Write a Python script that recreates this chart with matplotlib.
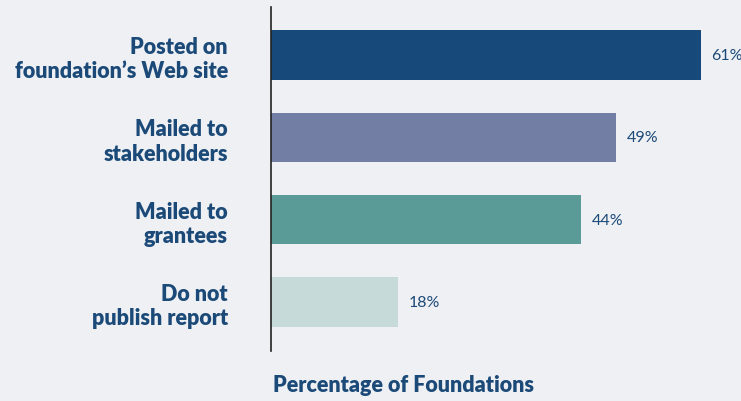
import matplotlib
matplotlib.use("Agg")
import matplotlib.pyplot as plt

categories = ["Posted on\nfoundation\u2019s Web site", "Mailed to\nstakeholders",
              "Mailed to\ngrantees", "Do not\npublish report"]
values = [61, 49, 44, 18]
value_labels = ["61%", "49%", "44%", "18%"]
colors = ["#174a7b", "#727ea4", "#5b9b97", "#c6dbd9"]
xlabel = "Percentage of Foundations"

bg = "#eef0f4"
txt = "#1c4a78"

fig = plt.figure(figsize=(7.41, 4.02), dpi=100, facecolor=bg)
ax = fig.add_axes([271/741, 1-352/402, 470/741, 344/402], facecolor=bg)

y = list(range(len(categories)))
ax.barh(y, values, height=0.6, color=colors)
ax.set_xlim(0, 470/7.05)
ax.set_ylim(3.595, -0.583)

for yi, v, lab in zip(y, values, value_labels):
    ax.text(v + 1.5, yi, lab, va="center", ha="left", fontsize=11.5,
            family="Lato", color=txt)

ax.set_yticks(y)
ax.set_yticklabels(categories, fontsize=15.5, fontweight="heavy", family="Lato",
                   color=txt, ha="right", linespacing=1.2)
ax.tick_params(axis="y", length=0, pad=31)
ax.set_xticks([])
for s in ["top", "right", "bottom"]:
    ax.spines[s].set_visible(False)
ax.spines["left"].set_color("#222222")
ax.spines["left"].set_linewidth(1.2)

fig.text(273/741, 1-386/402, xlabel, ha="left", va="center", fontsize=15.5,
         fontweight="heavy", family="Lato", color=txt)

fig.savefig("out.png", dpi=100, facecolor=bg)
